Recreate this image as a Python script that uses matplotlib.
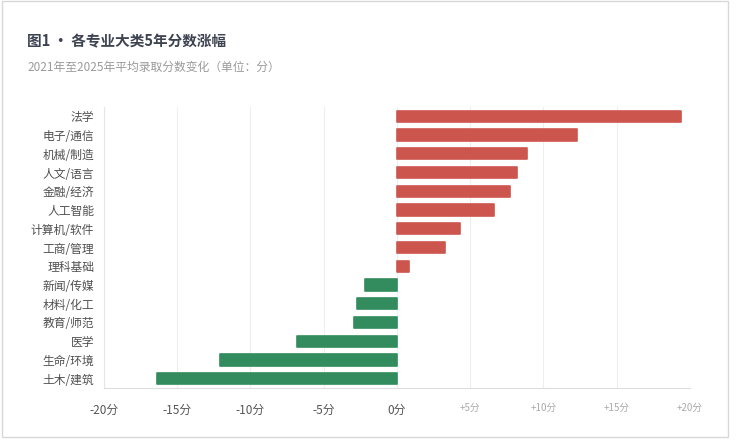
import matplotlib
matplotlib.use("Agg")
import matplotlib.pyplot as plt
from matplotlib.patches import Rectangle

plt.rcParams['font.family'] = ['Noto Sans CJK SC', 'DejaVu Sans']

# data
majors = ['法学', '电子/通信', '机械/制造', '人文/语言', '金融/经济', '人工智能',
          '计算机/软件', '工商/管理', '理科基础', '新闻/传媒', '材料/化工',
          '教育/师范', '医学', '生命/环境', '土木/建筑']
change = [19.4, 12.3, 8.9, 8.2, 7.7, 6.6, 4.3, 3.3, 0.8,
          -2.2, -2.7, -2.9, -6.8, -12.1, -16.4]
tick_values = [-20, -15, -10, -5, 0, 5, 10, 15, 20]
tick_labels = ['-20分', '-15分', '-10分', '-5分', '0分', '+5分', '+10分', '+15分', '+20分']

RED = '#cc564e'
GREEN = '#338c5e'

fig = plt.figure(figsize=(7.37, 4.4), dpi=100)
ax = fig.add_axes([0.141, 0.118, 0.795, 0.639])

colors = [RED if v > 0 else GREEN for v in change]
ypos = list(range(len(majors)))
ax.barh(ypos, change, height=0.6, color=colors, edgecolor=colors,
        linewidth=1.2, joinstyle='round', zorder=3)

ax.set_ylim(len(majors) - 0.5, -0.5)
ax.set_xlim(-20, 20)
ax.set_yticks(ypos)
ax.set_yticklabels(majors, fontsize=8.5, color='#505050')
ax.set_xticks(tick_values)
ax.set_xticklabels(tick_labels, fontsize=8.5, color='#555555')
for lbl, v in zip(ax.get_xticklabels(), tick_values):
    if v > 0:
        lbl.set_color('#aaaaaa')
        lbl.set_fontsize(7)
ax.tick_params(axis='both', length=0)
ax.tick_params(axis='x', pad=11)
ax.tick_params(axis='y', pad=7)

ax.grid(axis='x', color='#eeeeee', linewidth=0.8, zorder=0)
for side in ['top', 'right']:
    ax.spines[side].set_visible(False)
ax.spines['left'].set_color('#e6e6e6')
ax.spines['bottom'].set_color('#dddddd')

fig.text(0.037, 0.907, '图1 · 各专业大类5年分数涨幅', fontsize=10.5, fontweight='bold',
         color='#3d4350', va='center')
fig.text(0.037, 0.848, '2021年至2025年平均录取分数变化（单位：分）', fontsize=8.5,
         color='#9a9a9a', va='center')

fig.patches.append(Rectangle((0.003, 0.007), 0.985, 0.99, transform=fig.transFigure,
                             fill=False, edgecolor='#d8d8d8', linewidth=1))

fig.savefig('out.png', dpi=100, facecolor='white')
